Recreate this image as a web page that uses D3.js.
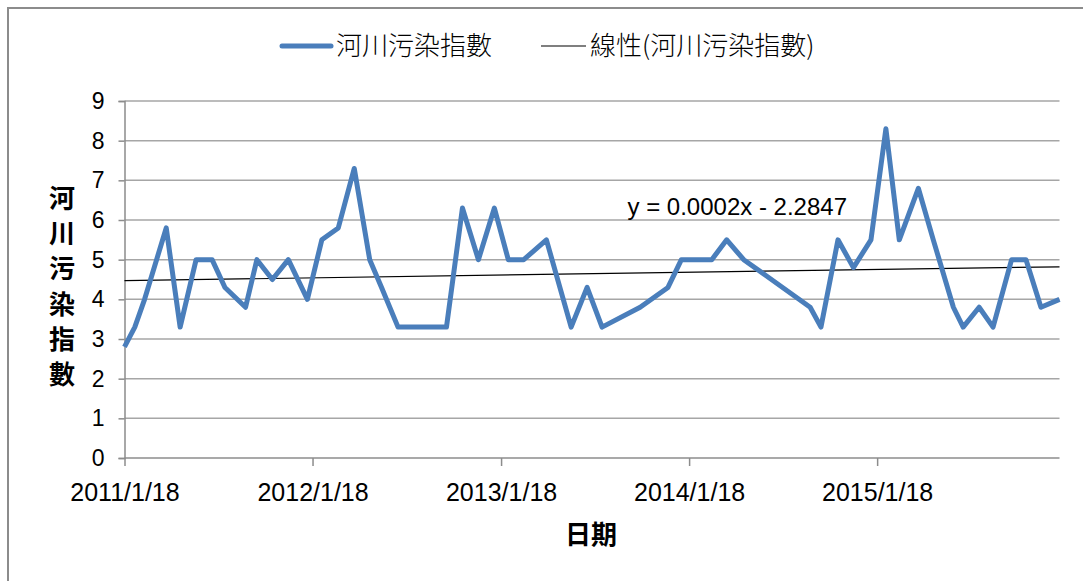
<!DOCTYPE html>
<html>
<head>
<meta charset="utf-8">
<script src="https://cdn.jsdelivr.net/npm/d3@7"></script>
<style>
  body { margin: 0; background: #fff; }
  svg text { fill: #000; }
</style>
</head>
<body>
<svg id="chart"></svg>
<script>
const dates = [
  '2011/1/18', '2011/2/7', '2011/2/26', '2011/4/9', '2011/5/6', '2011/6/6',
  '2011/7/7', '2011/8/1', '2011/9/10', '2011/10/2', '2011/11/1', '2011/12/2',
  '2012/1/8', '2012/2/5', '2012/3/8', '2012/4/8', '2012/5/8', '2012/5/31',
  '2012/7/2', '2012/8/2', '2012/9/3', '2012/10/4', '2012/11/4', '2012/12/5',
  '2013/1/5', '2013/2/1', '2013/3/3', '2013/4/16', '2013/6/3', '2013/7/4',
  '2013/8/2', '2013/10/15', '2013/12/8', '2014/1/3', '2014/3/3', '2014/4/1',
  '2014/5/4', '2014/9/10', '2014/10/1', '2014/11/3', '2014/12/3', '2015/1/6',
  '2015/2/4', '2015/3/2', '2015/4/8', '2015/5/7', '2015/6/15', '2015/7/4',
  '2015/8/4', '2015/8/31', '2015/10/6', '2015/11/3', '2015/12/2', '2016/1/7'
]
const pollution = [
  2.8, 3.3, 4.0, 5.8, 3.3, 5.0,
  5.0, 4.3, 3.8, 5.0, 4.5, 5.0,
  4.0, 5.5, 5.8, 7.3, 5.0, 4.3,
  3.3, 3.3, 3.3, 3.3, 6.3, 5.0,
  6.3, 5.0, 5.0, 5.5, 3.3, 4.3,
  3.3, 3.8, 4.3, 5.0, 5.0, 5.5,
  5.0, 3.8, 3.3, 5.5, 4.8, 5.5,
  8.3, 5.5, 6.8, 5.5, 3.8, 3.3,
  3.8, 3.3, 5.0, 5.0, 3.8, 4.0
]
const xTickLabels = ['2011/1/18', '2012/1/18', '2013/1/18', '2014/1/18', '2015/1/18']
const yTicks = [0, 1, 2, 3, 4, 5, 6, 7, 8, 9]
const seriesName = '河川污染指數'
const trendName = '線性(河川污染指數)'
const equation = 'y = 0.0002x - 2.2847'
const yTitle = ['河', '川', '污', '染', '指', '數']
const xTitle = '日期'

const width = 1083
const height = 581
const margin = { top: 101, left: 124.5, bottom: 123, right: 23.5 }
const iwidth = width - margin.left - margin.right
const iheight = height - margin.top - margin.bottom

const parse = d3.timeParse('%Y/%m/%d')
const data = dates.map((d, i) => ({ date: parse(d), value: pollution[i] }))

const svg = d3.select('#chart').attr('width', width).attr('height', height)

// chart frame
svg.append('rect')
  .attr('x', 8).attr('y', 8)
  .attr('width', width).attr('height', height)
  .attr('fill', 'none').attr('stroke', '#8c8c8c').attr('stroke-width', 2)

const g = svg.append('g').attr('transform', `translate(${margin.left},${margin.top})`)

const x = d3.scaleTime()
  .domain(d3.extent(data, (d) => d.date))
  .range([0, iwidth])
const y = d3.scaleLinear().domain([0, 9]).range([iheight, 0])

// gridlines
g.append('g')
  .selectAll('line')
  .data(yTicks.filter((t) => t > 0))
  .join('line')
  .attr('x1', 0).attr('x2', iwidth)
  .attr('y1', (d) => y(d)).attr('y2', (d) => y(d))
  .attr('stroke', '#a6a6a6').attr('stroke-width', 1.5)

// y axis
const yAxis = g.append('g')
  .call(d3.axisLeft(y).tickValues(yTicks).tickSize(6).tickPadding(14).tickFormat(d3.format('d')))
yAxis.selectAll('path, line').attr('stroke', '#8c8c8c').attr('stroke-width', 1.5)
yAxis.selectAll('text')
  .style('font-family', 'Liberation Sans, Arial, sans-serif')
  .style('font-size', '23px')

// x axis
const xAxis = g.append('g')
  .attr('transform', `translate(0,${iheight})`)
  .call(d3.axisBottom(x)
    .tickValues(xTickLabels.map(parse))
    .tickSize(8).tickPadding(17)
    .tickFormat((d, i) => xTickLabels[i]))
xAxis.selectAll('path, line').attr('stroke', '#8c8c8c').attr('stroke-width', 1.5)
xAxis.select('.domain').attr('d', `M0,0H${iwidth}`)
xAxis.selectAll('text')
  .style('font-family', 'Liberation Sans, Arial, sans-serif')
  .style('font-size', '25px')

// linear trend (least squares on the series)
const xs = data.map((d) => +d.date)
const ys = data.map((d) => d.value)
const mx = d3.mean(xs)
const my = d3.mean(ys)
const slope = d3.sum(xs, (v, i) => (v - mx) * (ys[i] - my)) / d3.sum(xs, (v) => (v - mx) * (v - mx))
const intercept = my - slope * mx
const ends = d3.extent(xs)
g.append('line')
  .attr('x1', x(new Date(ends[0]))).attr('x2', x(new Date(ends[1])))
  .attr('y1', y(intercept + slope * ends[0])).attr('y2', y(intercept + slope * ends[1]))
  .attr('stroke', '#000').attr('stroke-width', 1.2)

// series line
g.append('path')
  .datum(data)
  .attr('fill', 'none')
  .attr('stroke', '#4a7ebb')
  .attr('stroke-width', 5)
  .attr('stroke-linejoin', 'round')
  .attr('d', d3.line().x((d) => x(d.date)).y((d) => y(d.value)))

// trend equation
g.append('text')
  .attr('x', 503).attr('y', 114)
  .style('font-family', 'Liberation Sans, Arial, sans-serif')
  .style('font-size', '24px')
  .text(equation)

// legend
const legend = svg.append('g').attr('transform', 'translate(0,46)')
legend.append('line')
  .attr('x1', 282).attr('x2', 331).attr('y1', 0).attr('y2', 0)
  .attr('stroke', '#4a7ebb').attr('stroke-width', 5).attr('stroke-linecap', 'round')
legend.append('text')
  .attr('x', 336).attr('y', 9)
  .style('font-family', 'Noto Sans CJK TC, sans-serif')
  .style('font-size', '26px')
  .style('font-weight', '300')
  .text(seriesName)
legend.append('line')
  .attr('x1', 541).attr('x2', 586).attr('y1', 0).attr('y2', 0)
  .attr('stroke', '#000').attr('stroke-width', 1.2)
legend.append('text')
  .attr('x', 590).attr('y', 9)
  .style('font-family', 'Noto Sans CJK TC, sans-serif')
  .style('font-size', '26px')
  .style('font-weight', '300')
  .text(trendName)

// axis titles
svg.append('g')
  .selectAll('text')
  .data(yTitle)
  .join('text')
  .attr('x', 62)
  .attr('y', (d, i) => 208 + i * 35.2)
  .attr('text-anchor', 'middle')
  .style('font-family', 'Noto Sans CJK TC, sans-serif')
  .style('font-size', '26px')
  .style('font-weight', 'bold')
  .text((d) => d)

svg.append('text')
  .attr('x', 591).attr('y', 544)
  .attr('text-anchor', 'middle')
  .style('font-family', 'Noto Sans CJK TC, sans-serif')
  .style('font-size', '26px')
  .style('font-weight', 'bold')
  .text(xTitle)
</script>
</body>
</html>
